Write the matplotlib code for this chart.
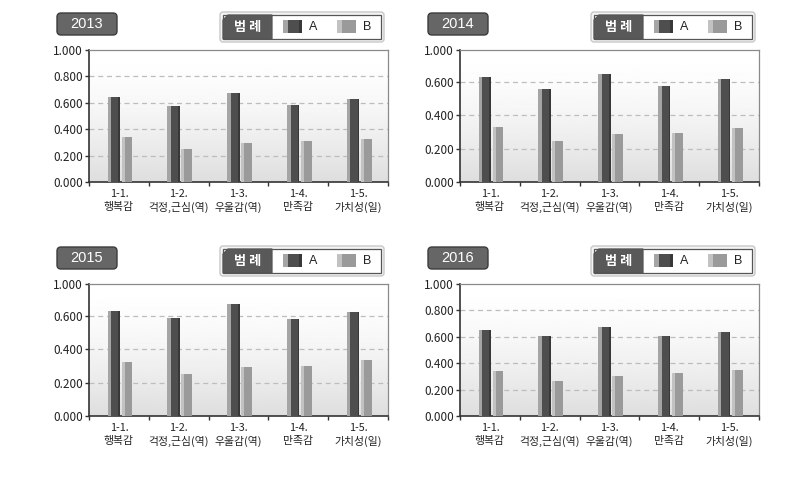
import numpy as np
import matplotlib
matplotlib.use("Agg")
import matplotlib.pyplot as plt
from matplotlib.patches import FancyBboxPatch, Polygon, Rectangle

plt.rcParams['font.family'] = ['Noto Sans CJK KR', 'DejaVu Sans']

# data
categories = ['1-1.\n행복감', '1-2.\n걱정,근심(역)', '1-3.\n우울감(역)', '1-4.\n만족감', '1-5.\n가치성(일)']
years = ['2013', '2014', '2015', '2016']
series_names = ['A', 'B']
a_values = {
    '2013': [0.646, 0.575, 0.671, 0.587, 0.630],
    '2014': [0.626, 0.556, 0.644, 0.576, 0.616],
    '2015': [0.631, 0.587, 0.671, 0.581, 0.623],
    '2016': [0.648, 0.603, 0.676, 0.603, 0.633],
}
b_values = {
    '2013': [0.342, 0.251, 0.296, 0.309, 0.329],
    '2014': [0.328, 0.244, 0.288, 0.294, 0.322],
    '2015': [0.322, 0.251, 0.291, 0.300, 0.334],
    '2016': [0.339, 0.266, 0.306, 0.324, 0.349],
}
# y ticks as printed on each panel (2014/2015 have a top label "1.000" where 0.8 would be)
y_ticks = {
    '2013': [0, 0.2, 0.4, 0.6, 0.8, 1.0],
    '2014': [0, 0.2, 0.4, 0.6, 0.79],
    '2015': [0, 0.2, 0.4, 0.6, 0.79],
    '2016': [0, 0.2, 0.4, 0.6, 0.8, 1.0],
}
y_ticklabels = {
    '2013': ['0.000', '0.200', '0.400', '0.600', '0.800', '1.000'],
    '2014': ['0.000', '0.200', '0.400', '0.600', '1.000'],
    '2015': ['0.000', '0.200', '0.400', '0.600', '1.000'],
    '2016': ['0.000', '0.200', '0.400', '0.600', '0.800', '1.000'],
}

W, H = 788, 482
fig = plt.figure(figsize=(W / 100, H / 100), dpi=100)
inch = fig.dpi_scale_trans


def px(x, y):
    # pixel (from top-left) -> inches (from bottom-left)
    return x / 100, (H - y) / 100


# panel offsets in pixels
offsets = {'2013': (0, 0), '2014': (371, 0), '2015': (0, 234), '2016': (371, 234)}

t = np.linspace(0, 1, 256).reshape(-1, 1)
grad = 1.0 - 0.13 * t ** 1.6

for yr in years:
    dx, dy = offsets[yr]
    left, top, right, bottom = 89 + dx, 50 + dy, 388 + dx, 182 + dy
    ax = fig.add_axes([left / W, 1 - bottom / H, (right - left) / W, (bottom - top) / H])

    # background gradient
    ax.imshow(grad, cmap='gray', vmin=0, vmax=1, aspect='auto',
              extent=[0, 1, 0, 1], transform=ax.transAxes, zorder=0)

    x = np.arange(len(categories))
    a = np.array(a_values[yr])
    b = np.array(b_values[yr])
    wa, wb = 0.21, 0.18
    xa = x - 0.19 + wa / 2
    xb = x + 0.045 + wb / 2
    ax.bar(xa, a, wa, color='#4e4e4e', zorder=3)
    ax.bar(xa - wa / 2 + 0.03, a, 0.06, color='#a5a5a5', zorder=4)
    ax.bar(xa + wa / 2 - 0.015, a, 0.03, color='#383838', zorder=4)
    ax.bar(xb, b, wb, color='#9a9a9a', zorder=3)
    ax.bar(xb - wb / 2 + 0.025, b, 0.05, color='#c2c2c2', zorder=4)

    ticks = y_ticks[yr]
    ax.set_ylim(0, ticks[-1])
    ax.set_xlim(-0.5, len(categories) - 0.5)
    for tk in ticks[1:-1]:
        ax.axhline(tk, color='#bdbdbd', lw=0.9, ls=(0, (4, 3)), zorder=1)
    ax.set_yticks(ticks)
    ax.set_yticklabels(y_ticklabels[yr], fontsize=8.5, color='#222222')
    ax.set_xticks(x)
    ax.set_xticklabels(categories, fontsize=7.8, color='#222222', linespacing=1.35)
    ax.tick_params(axis='x', length=0, pad=5)
    ax.tick_params(axis='y', length=3, width=1, pad=1.5, color='#333333')
    ax.set_xticks(np.arange(-0.5, len(categories)), minor=True)
    ax.tick_params(axis='x', which='minor', length=3, width=1, color='#333333', direction='out')

    for s in ['left', 'bottom']:
        ax.spines[s].set_color('#333333')
        ax.spines[s].set_linewidth(1.2)
    for s in ['top', 'right']:
        ax.spines[s].set_color('#8a8a8a')
        ax.spines[s].set_linewidth(0.9)

    # year title box
    x0, y1 = px(57 + dx, 35 + dy)
    x1, y0 = px(117 + dx, 13 + dy)
    fig.patches.append(FancyBboxPatch((x0, y1), x1 - x0, y0 - y1,
                                      boxstyle='round,pad=0,rounding_size=0.04',
                                      fc='#666666', ec='#3c3c3c', lw=1.0,
                                      transform=inch, figure=fig))
    fig.text((x0 + x1) / 2, (y0 + y1) / 2, yr, transform=inch, ha='center', va='center',
             color='white', fontsize=10.5, family=['Liberation Sans'])

    # legend box
    lx0, ly1 = px(220 + dx, 42 + dy)
    lx1, ly0 = px(384 + dx, 12 + dy)
    fig.patches.append(FancyBboxPatch((lx0, ly1), lx1 - lx0, ly0 - ly1,
                                      boxstyle='round,pad=0,rounding_size=0.03',
                                      fc='#f4f4f4', ec='#c8c8c8', lw=1.0,
                                      transform=inch, figure=fig))
    ix0, iy1 = px(223 + dx, 39 + dy)
    ix1, iy0 = px(381 + dx, 15 + dy)
    fig.patches.append(Rectangle((ix0, iy1), ix1 - ix0, iy0 - iy1, fc='white',
                                 ec='#555555', lw=0.9, transform=inch, figure=fig))
    sx = px(272 + dx, 0)[0]
    cut = 0.05
    fig.patches.append(Polygon([(ix0, iy1), (sx, iy1), (sx, iy0), (ix0 + cut, iy0), (ix0, iy0 - cut)],
                               closed=True, fc='#595959', ec='#555555', lw=0.9,
                               transform=inch, figure=fig))
    fig.text((ix0 + sx) / 2, (iy0 + iy1) / 2, '범 례', transform=inch, ha='center', va='center',
             color='white', fontsize=9.5, fontweight='bold')
    sw_specs = [(283, ['#a5a5a5', '#4e4e4e', '#383838']), (337, ['#c2c2c2', '#9a9a9a', '#9a9a9a'])]
    for (sx0, cols), name in zip(sw_specs, series_names):
        bx0, by1 = px(sx0 + dx, 33 + dy)
        bx1, by0 = px(sx0 + 19 + dx, 20 + dy)
        wdt = bx1 - bx0
        fig.patches.append(Rectangle((bx0, by1), wdt, by0 - by1, fc=cols[1], ec='none',
                                     transform=inch, figure=fig))
        fig.patches.append(Rectangle((bx0, by1), wdt * 0.28, by0 - by1, fc=cols[0], ec='none',
                                     transform=inch, figure=fig))
        fig.patches.append(Rectangle((bx1 - wdt * 0.15, by1), wdt * 0.15, by0 - by1, fc=cols[2],
                                     ec='none', transform=inch, figure=fig))
        fig.text(bx1 + 0.07, (by0 + by1) / 2, name, transform=inch, ha='left', va='center',
                 color='#222222', fontsize=9, family=['Liberation Sans'])

fig.savefig('out.png', dpi=100)
